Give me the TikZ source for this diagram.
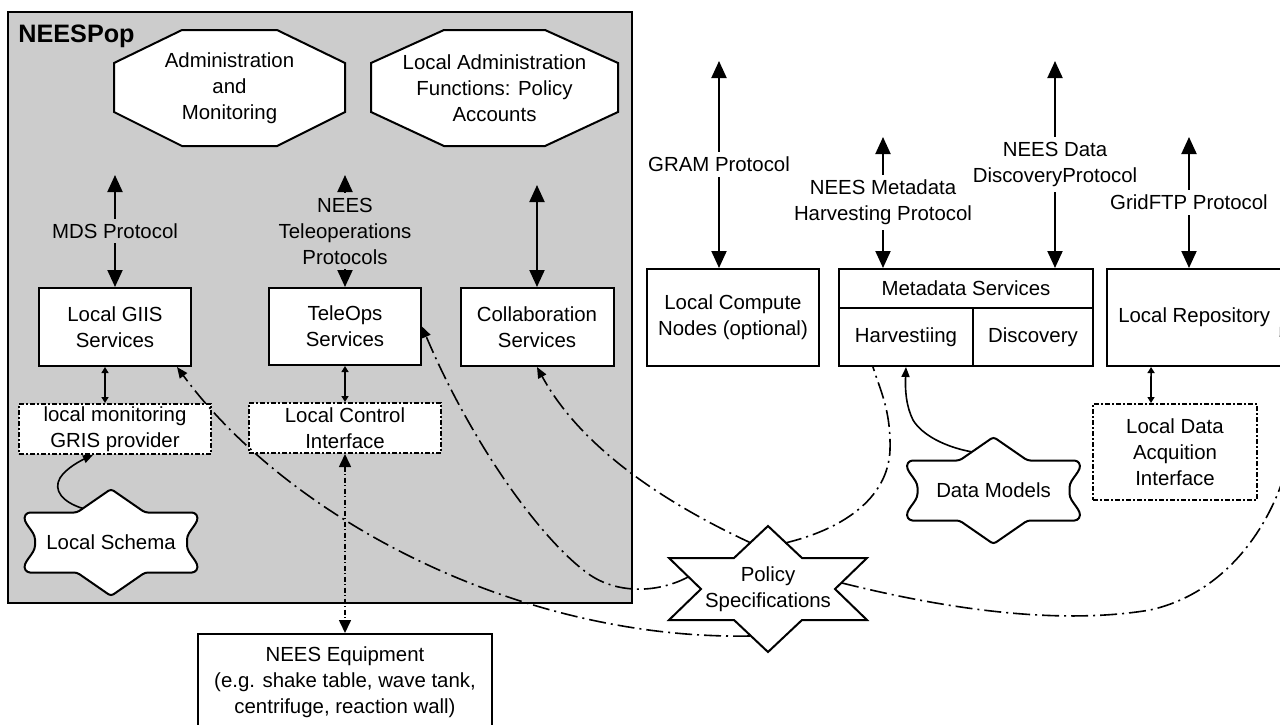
\documentclass[tikz,border=0pt]{standalone}
\usepackage{fontspec}
\setmainfont{Liberation Sans}
\usetikzlibrary{arrows.meta,positioning,calc}

\definecolor{neesgray}{HTML}{CCCCCC}

% outlines drawn round a centre point (1 unit = 1 px of the sketch)
\newcommand{\wavycloud}[1]{%
  \draw[shapeline, shift={(#1)}] (0,-53.5) -- (34,-30) -- (84,-30)
    .. controls (90,-20) and (76,-12) .. (76,0)
    .. controls (76,12) and (90,20) .. (84,30)
    -- (34,30) -- (0,53.5) -- (-34,30) -- (-84,30)
    .. controls (-90,20) and (-76,12) .. (-76,0)
    .. controls (-76,-12) and (-90,-20) .. (-84,-30)
    -- (-34,-30) -- cycle;}
\newcommand{\hexstar}[1]{%
  \draw[shapeline, rounded corners=0pt, shift={(#1)}] (0,-63) -- (34,-31) -- (99,-31) -- (67,0)
    -- (99,31) -- (34,31) -- (0,63) -- (-34,31) -- (-99,31) -- (-67,0)
    -- (-99,-31) -- (-34,-31) -- cycle;}
% centre, half width, corner cut
\newcommand{\octagonat}[3]{%
  \draw[shapeline, rounded corners=0pt, shift={(#1)}] (-#2+#3,-58) -- (#2-#3,-58) -- (#2,-25)
    -- (#2,24) -- (#2-#3,58) -- (-#2+#3,58) -- (-#2,24) -- (-#2,-25) -- cycle;}

\begin{document}
\begin{tikzpicture}[x=0.5pt, y=-0.5pt,
        font=\fontsize{10.2}{13}\selectfont,
        box/.style={rectangle, draw=black, line width=1pt, fill=white, align=center, inner sep=0pt},
        ctlbox/.style={box, dash pattern=on 2.5pt off 1.2pt on 0.6pt off 1.2pt},
        shapeline/.style={draw=black, line width=1pt, fill=white, rounded corners=1.5pt},
        plain/.style={align=center, inner sep=0pt},
        proto/.style={align=center, fill=white, inner ysep=2.5pt, inner xsep=1pt},
        bigarrow/.style={{Triangle[length=8.5pt,width=7.5pt]}-{Triangle[length=8.5pt,width=7.5pt]}, line width=1pt},
        smallarrow/.style={{Triangle[length=3pt,width=3.5pt]}-{Triangle[length=3pt,width=3.5pt]}, line width=0.8pt},
        ctlarrow/.style={{Triangle[length=6.5pt,width=6pt]}-{Triangle[length=6.5pt,width=6pt]}, line width=0.8pt,
            dash pattern=on 2.5pt off 1.2pt on 0.6pt off 1.2pt},
        policyline/.style={line width=0.8pt, dash pattern=on 8.5pt off 2.5pt on 1pt off 2.5pt},
        policyarrow/.style={policyline, -{Triangle[length=5.5pt,width=4.5pt]}},
        modelarrow/.style={-{Triangle[length=5pt,width=4pt]}, line width=0.8pt}
    ]
        \useasboundingbox (0,0) rectangle (1280,724);
        \clip (0,0) rectangle (1280,724);

        % NEESPop container
        \node[draw=black, line width=1pt, fill=neesgray, minimum width=312pt, minimum height=295.5pt,
            inner sep=0pt] (neespop) at (320,307.5) {};
        \node[font=\fontsize{12.6}{14}\selectfont\bfseries, anchor=west, inner sep=0pt] (poplabel) at (18,36) {NEESPop};

        % Administration functions
        \octagonat{229.5,88}{115.5}{68}
        \node[plain] (admin) at (229.5,88) {Administration\\and\\Monitoring};
        \octagonat{494.5,88}{123.5}{73}
        \node[plain] (localadmin) at (494.5,88) {Local Administration\\Functions: Policy\\Accounts};

        % Services inside the pop
        \node[box, minimum width=76pt, minimum height=39pt] (giis) at (115,327) {Local GIIS\\Services};
        \node[box, minimum width=76pt, minimum height=38.5pt] (teleops) at (345,326.5) {TeleOps\\Services};
        \node[box, minimum width=76.5pt, minimum height=39pt] (collab) at (537,327) {Collaboration\\Services};
        \node[ctlbox, minimum width=96pt, minimum height=25pt] (gris) [below=18pt of giis]
            {local monitoring\\GRIS provider};
        \node[ctlbox, minimum width=96pt, minimum height=25pt] (control) [below=18pt of teleops]
            {Local Control\\Interface};

        % Services outside the pop
        \node[box, minimum width=86pt, minimum height=48.5pt] (compute) at (733,317.5) {Local Compute\\Nodes (optional)};
        \node[box, minimum width=127pt, minimum height=48.5pt] (meta) at (966,317.5) {};
        \node[plain] (metatitle) at (966,288.5) {Metadata Services};
        \node[box, minimum width=67pt, minimum height=29pt] (harvest) at (906,337) {Harvestiing};
        \node[box, minimum width=60pt, minimum height=29pt] (discover) at (1033,337) {Discovery};
        \node[box, minimum width=87.75pt, minimum height=48.5pt] (repo) at (1194.25,317.5) {Local Repository};
        \node[ctlbox, minimum width=82pt, minimum height=48pt] (daq) at (1175,452)
            {Local Data\\Acquition\\Interface};
        \node[box, minimum width=147pt, minimum height=48pt] (equip) at (345,682)
            {NEES Equipment\\(e.g. shake table, wave tank,\\centrifuge, reaction wall)};

        % Clouds and policy star
        \wavycloud{111,542.5}
        \node[plain] (schema) at (111,542.5) {Local Schema};
        \wavycloud{993.5,490.5}
        \node[plain] (models) at (993.5,490.5) {Data Models};
        \hexstar{768,589}
        \node[plain] (policy) at (768,589) {Policy\\Specifications};

        % Protocol arrows
        \coordinate (mdstop) at (115,175);
        \coordinate (teletop) at (345,175);
        \coordinate (collabtop) at (537,185);
        \coordinate (gramtop) at (719,61);
        \coordinate (harvtop) at (883,137);
        \coordinate (disctop) at (1055,61);
        \coordinate (ftptop) at (1189,137);
        \draw[bigarrow] (mdstop) -- node[proto, fill=neesgray] {MDS Protocol} (giis);
        \draw[bigarrow] (teletop) -- node[proto, fill=neesgray] {NEES\\Teleoperations\\Protocols} (teleops);
        \draw[bigarrow] (collabtop) -- (collab);
        \draw[bigarrow] (gramtop) -- node[proto] {GRAM Protocol} (gramtop |- compute.north);
        \draw[bigarrow] (harvtop) -- node[proto] {NEES Metadata\\Harvesting Protocol} (harvtop |- meta.north);
        \draw[bigarrow] (disctop) -- node[proto] {NEES Data\\DiscoveryProtocol} (disctop |- meta.north);
        \draw[bigarrow] (ftptop) -- node[proto] {GridFTP Protocol} (ftptop |- repo.north);

        % Local links
        \draw[smallarrow] ([xshift=-5pt]giis.south) -- ([xshift=-5pt]gris.north);
        \draw[smallarrow] (teleops) -- (control);
        \draw[smallarrow] ([xshift=-21.6pt]repo.south) -- ([xshift=-12pt]daq.north);
        \draw[ctlarrow] (control) -- (equip);
        \draw[modelarrow] ($(schema)+(-28,-34)$) .. controls (62,502) and (53,490) .. (60,478)
            .. controls (66,468) and (82,460) .. ($(gris.south)+(-22,0)$);
        \draw[modelarrow] ($(models)+(-21.5,-38.6)$) .. controls (945,447) and (922,435) .. (913,420)
            .. controls (906,406) and (905,390) .. (harvest.south);

        % Policy links
        \coordinate (repotip) at (1280,325);
        \draw[policyarrow] ($(policy)+(-18,47)$) .. controls (520,640) and (290,520) .. ($(giis.south east)+(-15,0)$);
        \draw[policyarrow] ($(policy)+(-80,-12)$) .. controls (660,592) and (620,595) .. (590,575)
            .. controls (540,540) and (470,440) .. (teleops.east);
        \draw[policyarrow] ($(policy)+(-17,-46)$) .. controls (680,510) and (585,455) .. (collab.south);
        \draw[policyline] ($(policy)+(17,-46)$) .. controls (840,530) and (888,500) .. (890,450)
            .. controls (891,410) and (880,390) .. ($(harvest.south)+(-33,0)$);
        \draw[policyarrow] ($(policy)+(74,-6)$) .. controls (950,610) and (1060,625) .. (1150,610)
            .. controls (1240,590) and (1285,500) .. (1292,440)
            .. controls (1296,400) and (1292,355) .. (repotip);

    \end{tikzpicture}
\end{document}
